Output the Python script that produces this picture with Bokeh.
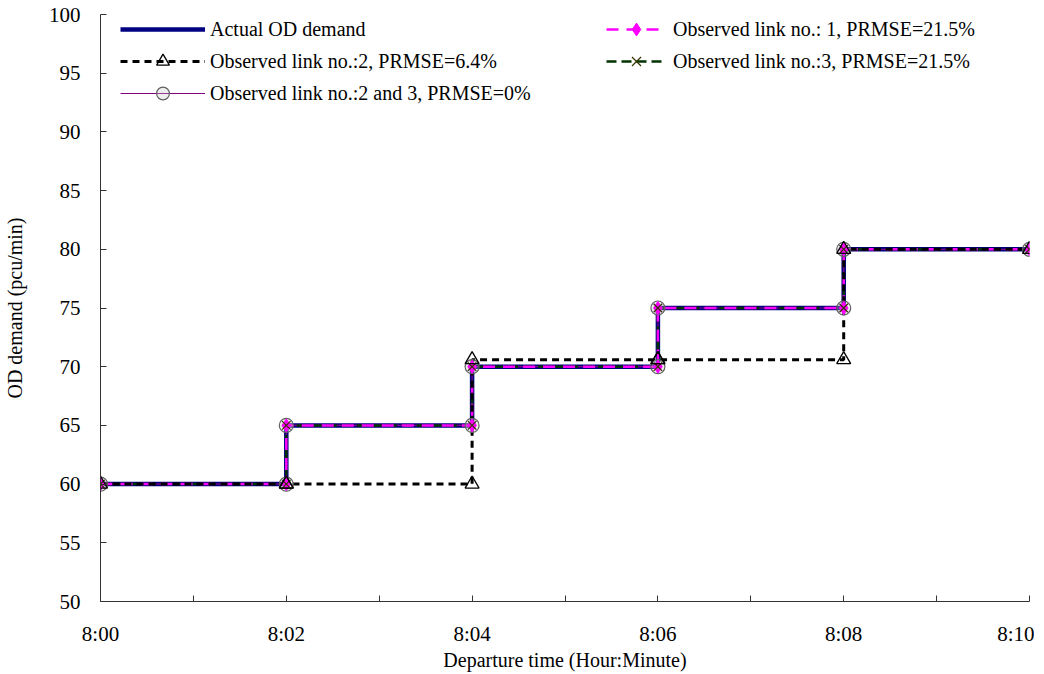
from bokeh.plotting import figure
from bokeh.models import Legend, LegendItem, FixedTicker, Range1d
from bokeh.embed import file_html
from bokeh.resources import INLINE

# ---- data ----
departure_min = [0, 2, 4, 6, 8, 10]
tick_minutes = [0, 1, 2, 3, 4, 5, 6, 7, 8, 9, 10]
tick_labels = ["8:00", "", "8:02", "", "8:04", "", "8:06", "", "8:08", "", "8:10"]
actual_od = [60, 65, 70, 75, 80, 80]
obs_link1 = [60, 65, 70, 75, 80, 80]
obs_link2 = [60, 60, 70.6, 70.6, 80, 80]
obs_link3 = [60, 65, 70, 75, 80, 80]
obs_link23 = [60, 65, 70, 75, 80, 80]
y_ticks = [50, 55, 60, 65, 70, 75, 80, 85, 90, 95, 100]


def steps(xs, ys):
    sx, sy = [xs[0]], [ys[0]]
    for i in range(1, len(xs)):
        sx += [xs[i], xs[i]]
        sy += [ys[i - 1], ys[i]]
    if sy[-1] == sy[-2] and sx[-1] == sx[-2]:
        sx, sy = sx[:-1], sy[:-1]
    return sx, sy


FONT = "Liberation Serif"

p = figure(frame_width=929, frame_height=587, output_backend="svg",
           toolbar_location=None, x_range=Range1d(0, 10), y_range=Range1d(50, 100),
           min_border_left=92, min_border_top=14, min_border_right=5, min_border_bottom=10)
p.outline_line_color = None
p.grid.visible = False
p.background_fill_color = "white"

p.axis.axis_line_color = "#333333"
p.axis.major_tick_line_color = "#333333"
p.axis.major_tick_in = 6
p.axis.major_tick_out = 0
p.axis.minor_tick_line_color = None
p.axis.major_label_text_color = "black"
p.axis.major_label_text_font_style = "normal"
p.axis.major_label_text_font = FONT
p.axis.major_label_text_font_size = "21px"
p.axis.axis_label_text_font = FONT
p.axis.axis_label_text_font_size = "20px"
p.axis.axis_label_text_font_style = "normal"
p.axis.axis_label_text_color = "black"

p.xaxis.ticker = FixedTicker(ticks=tick_minutes)
p.xaxis.major_label_overrides = {m: l for m, l in zip(tick_minutes, tick_labels)}
p.xaxis.major_label_standoff = 20
p.xaxis.axis_label = "Departure time (Hour:Minute)"
p.xaxis.axis_label_standoff = 0

p.yaxis.ticker = FixedTicker(ticks=y_ticks)
p.yaxis.major_label_standoff = 20
p.yaxis.axis_label = "OD demand (pcu/min)"
p.yaxis.axis_label_standoff = 20

ax_, ay_ = steps(departure_min, actual_od)
x1, y1 = steps(departure_min, obs_link1)
x2, y2 = steps(departure_min, obs_link2)
x3, y3 = steps(departure_min, obs_link3)
x23, y23 = steps(departure_min, obs_link23)

r_act = p.line(ax_, ay_, line_color="#000080", line_width=4.5)
r23_l = p.line(x23, y23, line_color="#800080", line_width=1.2)
r3_l = p.line(x3, y3, line_color="#003300", line_width=2.5, line_dash="10 5")
r1_l = p.line(x1, y1, line_color="#ff00ff", line_width=2.5, line_dash="12 8")
r2_l = p.line(x2, y2, line_color="black", line_width=3, line_dash="7 5")

r23_m = p.scatter(x23, y23, marker="circle", size=14, fill_color="#c8c8c8", fill_alpha=0.3,
                  line_color="#606060", line_width=1.2)
r1_m = p.scatter(x1, y1, marker="diamond", size=13, fill_color="#ff00ff", line_color="#ff00ff")
r3_m = p.scatter(x3, y3, marker="x", size=12, line_color="#333300", line_width=1.2)
r2_m = p.scatter(x2, y2, marker="triangle", size=14, fill_color="white", fill_alpha=0.0,
                 line_color="black", line_width=1.3)

leg_common = dict(background_fill_alpha=0, border_line_color=None, padding=0, margin=0,
                  spacing=0, label_text_font=FONT, label_text_font_size="20px",
                  label_text_color="black", glyph_height=32, label_height=20)

leg1 = Legend(items=[
    LegendItem(label="Actual OD demand", renderers=[r_act]),
    LegendItem(label="Observed link no.:2, PRMSE=6.4%", renderers=[r2_l, r2_m]),
    LegendItem(label="Observed link no.:2 and 3, PRMSE=0%", renderers=[r23_l, r23_m]),
], location=(20, 492), glyph_width=85, label_standoff=5, **leg_common)

leg2 = Legend(items=[
    LegendItem(label="Observed link no.: 1, PRMSE=21.5%", renderers=[r1_l, r1_m]),
    LegendItem(label="Observed link no.:3, PRMSE=21.5%", renderers=[r3_l, r3_m]),
], location=(506, 524), glyph_width=60, label_standoff=7, **leg_common)

p.add_layout(leg1)
p.add_layout(leg2)

open("out.html", "w").write(file_html(p, INLINE))
